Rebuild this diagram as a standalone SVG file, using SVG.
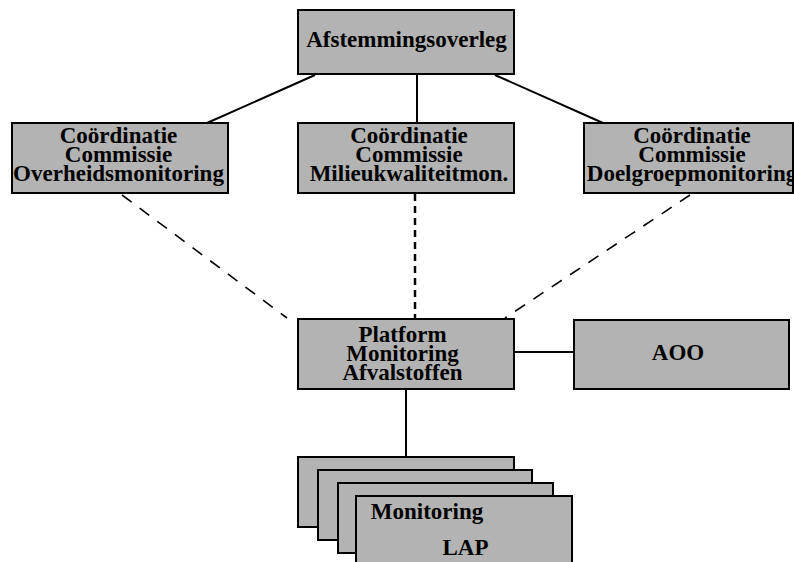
<svg xmlns="http://www.w3.org/2000/svg" width="794" height="562" viewBox="0 0 794 562">
<style>
.box{fill:#b3b3b3;stroke:#000;stroke-width:2}
.t{font-family:"Liberation Serif","Times New Roman",serif;font-weight:bold;font-size:23px;fill:#000;text-anchor:middle}
.ln{stroke:#000;stroke-width:2;fill:none}
.d1{stroke:#000;stroke-width:1.6;fill:none;stroke-dasharray:12 10}
.d2{stroke:#000;stroke-width:2.5;fill:none;stroke-dasharray:7 5}
</style>
<rect width="794" height="562" fill="#fff"/>
<g id="connectors">
<line class="ln" x1="315" y1="75" x2="207" y2="123"/>
<line class="ln" x1="417" y1="75" x2="417" y2="123"/>
<line class="ln" x1="495" y1="75" x2="603" y2="123"/>
<line class="d1" x1="122" y1="195" x2="287" y2="318"/>
<line class="d2" x1="415" y1="194" x2="415" y2="319"/>
<line class="d1" x1="690" y1="195" x2="505" y2="318"/>
<line class="ln" x1="514" y1="352" x2="574" y2="352"/>
<line class="ln" x1="406" y1="389" x2="406" y2="457"/>
</g>
<g id="afstemmingsoverleg">
<rect class="box" x="298" y="10" width="216" height="64"/>
<text class="t" x="406.5" y="47">Afstemmingsoverleg</text>
</g>
<g id="cc-overheid">
<rect class="box" x="12" y="123" width="216" height="70"/>
<text class="t" x="118.5" y="143">Coördinatie</text>
<text class="t" x="118.5" y="162">Commissie</text>
<text class="t" x="118.5" y="180.5">Overheidsmonitoring</text>
</g>
<g id="cc-milieu">
<rect class="box" x="298" y="123" width="216" height="70"/>
<text class="t" x="409" y="143">Coördinatie</text>
<text class="t" x="409" y="162">Commissie</text>
<text class="t" x="409" y="180.5">Milieukwaliteitmon.</text>
</g>
<g id="cc-doelgroep">
<rect class="box" x="584" y="123" width="209" height="70"/>
<text class="t" x="692" y="143">Coördinatie</text>
<text class="t" x="692" y="162">Commissie</text>
<text class="t" x="692" y="180.5">Doelgroepmonitoring</text>
</g>
<g id="platform">
<rect class="box" x="298" y="319" width="216" height="70"/>
<text class="t" x="402.5" y="342">Platform</text>
<text class="t" x="402.5" y="361">Monitoring</text>
<text class="t" x="402.5" y="379.5">Afvalstoffen</text>
</g>
<g id="aoo">
<rect class="box" x="574" y="320" width="215" height="69"/>
<text class="t" x="678" y="360">AOO</text>
</g>
<g id="monitoring-lap">
<rect class="box" x="298" y="457" width="216" height="70"/>
<rect class="box" x="318" y="470" width="214" height="70"/>
<rect class="box" x="338" y="483" width="215" height="70"/>
<rect class="box" x="356" y="496" width="216" height="80"/>
<text class="t" x="427" y="519">Monitoring</text>
<text class="t" x="465.5" y="555">LAP</text>
</g>
</svg>
